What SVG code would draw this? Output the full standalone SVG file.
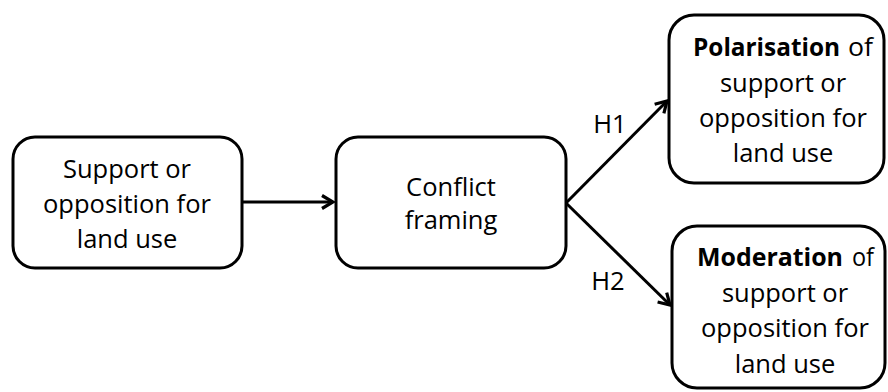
<svg xmlns="http://www.w3.org/2000/svg" width="888" height="392" viewBox="0 0 888 392">
<style>
.box{fill:#fff;stroke:#000;stroke-width:3}
.t{font-family:"Open Sans","Noto Sans",sans-serif;font-size:25.5px;fill:#000;text-anchor:middle}
.s{text-anchor:start}
.b{font-weight:bold}
.c{stroke:#000;stroke-width:3;fill:none}
</style>
<defs>
<marker id="ah" viewBox="0 0 16 16" refX="13" refY="8" markerWidth="16" markerHeight="16" markerUnits="userSpaceOnUse" orient="auto">
<path d="M2,1.5 L13,8 L2,14.5" fill="none" stroke="#000" stroke-width="3.2" stroke-linejoin="miter"/>
</marker>
</defs>
<rect width="888" height="392" fill="#fff"/>
<g id="connectors">
<line class="c" x1="242" y1="202" x2="333" y2="202" marker-end="url(#ah)"/>
<line class="c" x1="566" y1="203" x2="667" y2="101" marker-end="url(#ah)"/>
<line class="c" x1="566" y1="203" x2="670" y2="305" marker-end="url(#ah)"/>
<text class="t" x="610" y="133">H1</text>
<text class="t" x="608" y="290">H2</text>
</g>
<g id="node-support">
<rect class="box" x="13" y="137" width="229" height="131" rx="22"/>
<text class="t" x="127" y="178">Support or</text>
<text class="t" x="127" y="213">opposition for</text>
<text class="t" x="127" y="248">land use</text>
</g>
<g id="node-conflict">
<rect class="box" x="336" y="137" width="230" height="131" rx="22"/>
<text class="t" x="451" y="196">Conflict</text>
<text class="t" x="451" y="229">framing</text>
</g>
<g id="node-polarisation">
<rect class="box" x="669" y="15" width="215" height="168" rx="25"/>
<text class="t s b" x="693" y="56" textLength="147" lengthAdjust="spacingAndGlyphs">Polarisation</text>
<text class="t s" x="848" y="56" textLength="25" lengthAdjust="spacingAndGlyphs">of</text>
<text class="t" x="783" y="92">support or</text>
<text class="t" x="783" y="127">opposition for</text>
<text class="t" x="783" y="162">land use</text>
</g>
<g id="node-moderation">
<rect class="box" x="672" y="226" width="213" height="162" rx="25"/>
<text class="t s b" x="697" y="266" textLength="146" lengthAdjust="spacingAndGlyphs">Moderation</text>
<text class="t s" x="852" y="266" textLength="22" lengthAdjust="spacingAndGlyphs">of</text>
<text class="t" x="785" y="302">support or</text>
<text class="t" x="785" y="337">opposition for</text>
<text class="t" x="785" y="373">land use</text>
</g>
</svg>
